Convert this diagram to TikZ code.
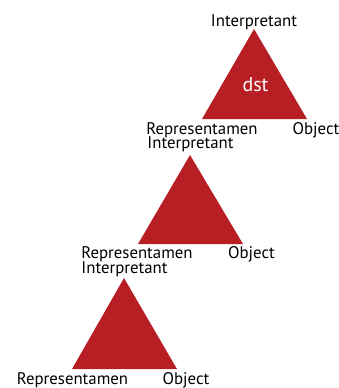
\documentclass[tikz,border=0pt]{standalone}
\usepackage{fontspec}
\setmainfont{PT Sans}
\definecolor{trired}{HTML}{B71F25}
\begin{document}
\begin{tikzpicture}[x=1pt,y=-1pt,
  tri/.style={fill=trired,draw=none},
  lbl/.style={font=\fontsize{16.8}{17}\selectfont,inner sep=0pt,anchor=base,text=black},
  inlbl/.style={font=\fontsize{20}{21}\selectfont,inner sep=0pt,text=white}]
\useasboundingbox (0,0) rectangle (339,388);
% triangle 1
\coordinate (a1) at (254,29);
\coordinate (l1) at (202,119);
\coordinate (r1) at (307,119);
\fill[tri] (a1) -- (l1) -- (r1) -- cycle;
\node[inlbl] (d1) at (255.5,85) {dst};
\node[lbl] (i1) at (254,26) {Interpretant};
\node[lbl] (rep1) at (202,134) {Representamen};
\node[lbl] (o1) at (316,134) {Object};
% triangle 2
\coordinate (a2) at (190,155);
\coordinate (l2) at (138,244);
\coordinate (r2) at (243,244);
\fill[tri] (a2) -- (l2) -- (r2) -- cycle;
\node[lbl] (i2) at (190.5,148) {Interpretant};
\node[lbl] (rep2) at (137,258) {Representamen};
\node[lbl] (o2) at (251.5,258) {Object};
% triangle 3
\coordinate (a3) at (124,278);
\coordinate (l3) at (72,369);
\coordinate (r3) at (177,369);
\fill[tri] (a3) -- (l3) -- (r3) -- cycle;
\node[lbl] (i3) at (124.5,273) {Interpretant};
\node[lbl] (rep3) at (72.5,384) {Representamen};
\node[lbl] (o3) at (186,384) {Object};
\end{tikzpicture}
\end{document}
